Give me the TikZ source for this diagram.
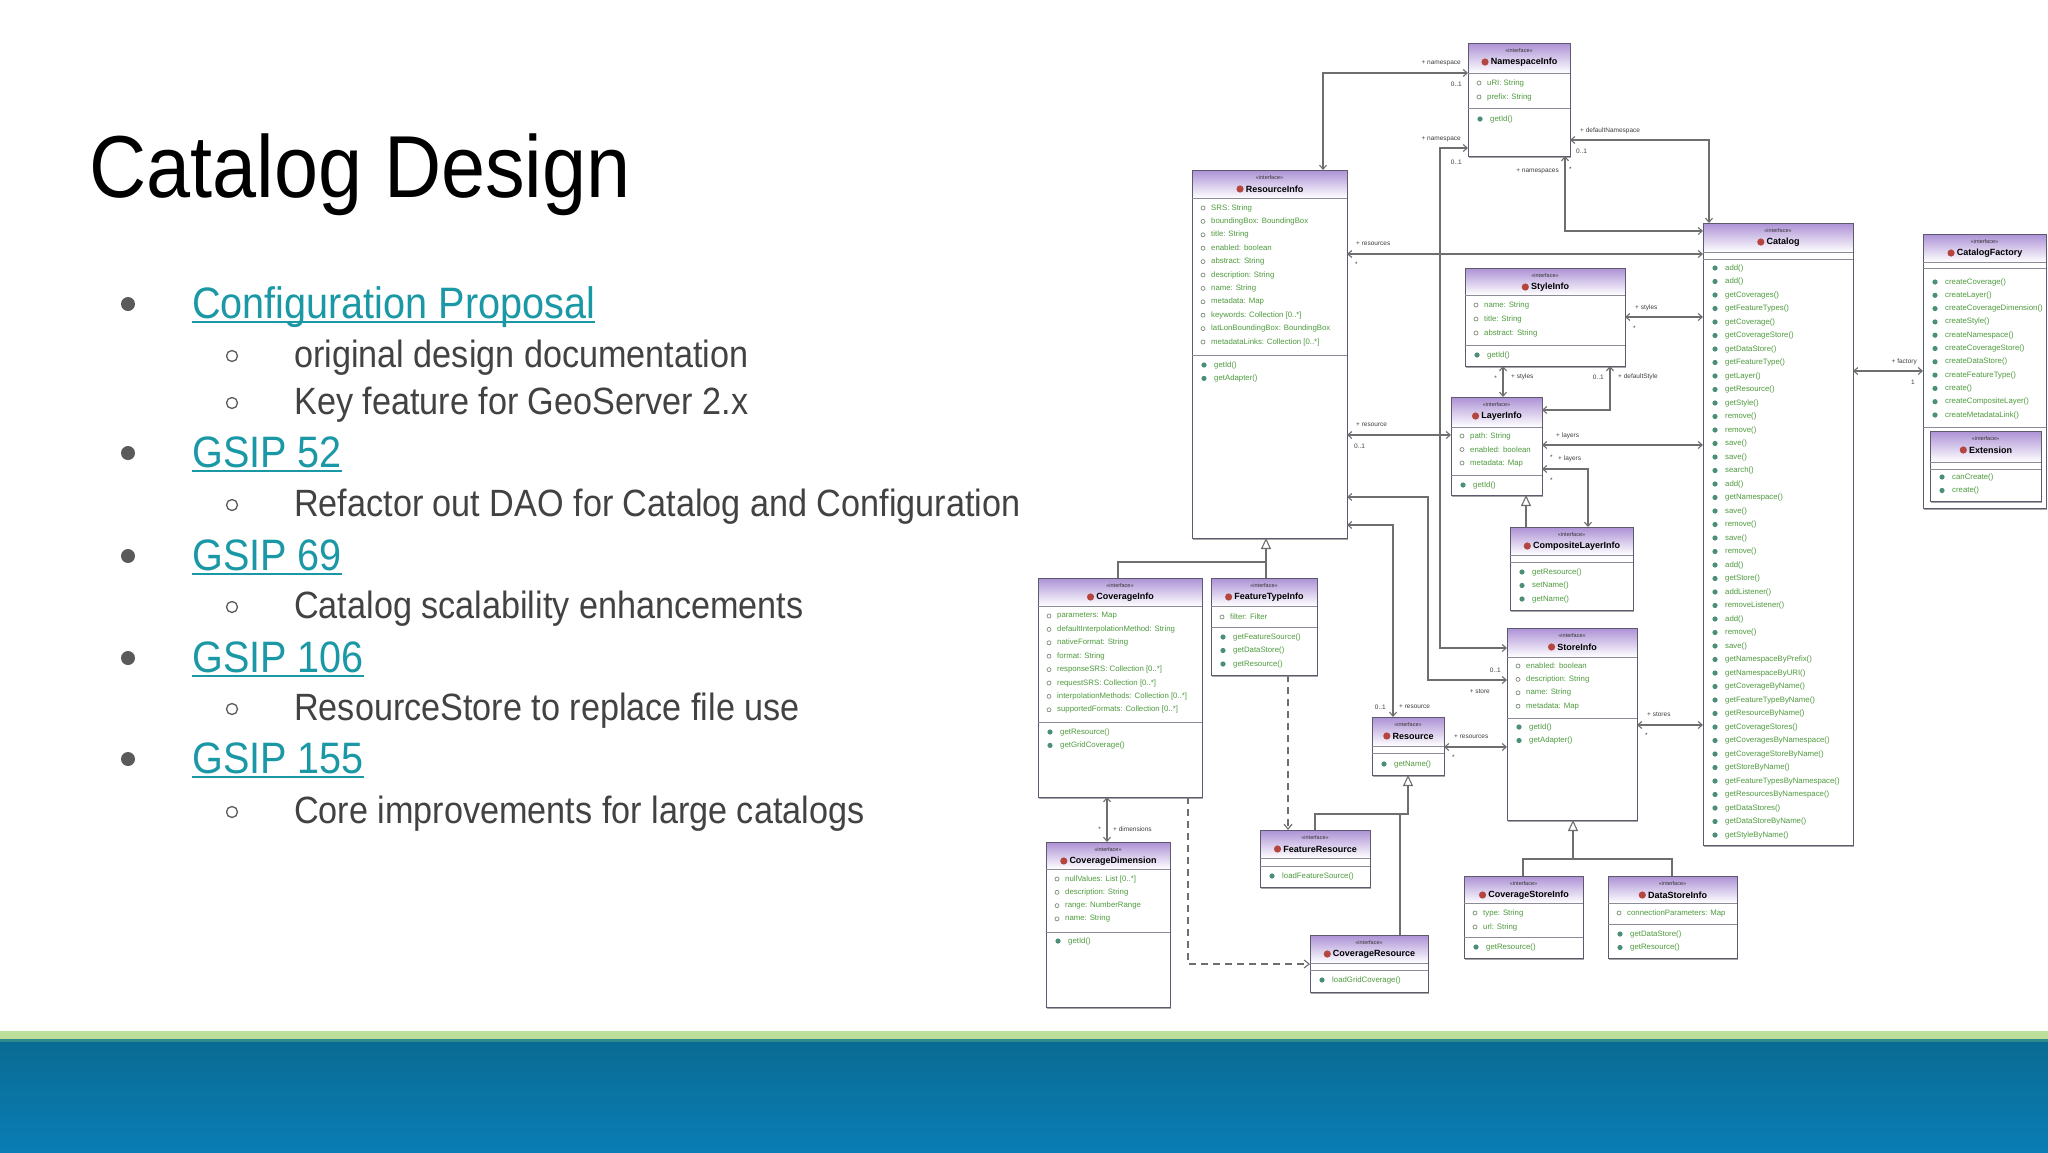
\documentclass[tikz,border=0pt]{standalone}
\usepackage{fontspec}
\setmainfont{Liberation Sans}
\newfontfamily\slidefont{Liberation Sans}[FakeStretch=0.9]
\usetikzlibrary{arrows.meta,shadows}
\definecolor{linkc}{HTML}{1A98A6}
\definecolor{subc}{HTML}{424242}
\definecolor{bulc}{HTML}{5A5A5A}
\definecolor{boxc}{HTML}{5E5A6E}
\definecolor{hdrc}{HTML}{AE93D6}
\definecolor{attc}{HTML}{4E9A3E}
\definecolor{mthc}{HTML}{4A8F76}
\definecolor{atic}{HTML}{7E8F7A}
\definecolor{conc}{HTML}{6E6E6E}
\definecolor{icnc}{HTML}{B5463F}
\definecolor{bandtop}{HTML}{0A6C93}
\definecolor{bandbot}{HTML}{0A7DB5}
\definecolor{greenband}{HTML}{BCE09A}
\definecolor{tealline}{HTML}{2E8C8E}
\tikzset{
  umlframe/.style={draw=boxc, line width=1pt, fill=white, inner sep=0pt, outer sep=0pt,
    drop shadow={shadow xshift=1.3pt, shadow yshift=-1.6pt, fill=black, opacity=0.35}},
  sepline/.style={draw=boxc!70, line width=0.8pt},
  stereo/.style={font=\fontsize{5.5}{6}\selectfont, text=black!80, inner sep=0pt},
  ctitle/.style={font=\fontsize{9}{10}\selectfont\bfseries, text=black, inner sep=0pt},
  attr/.style={font=\fontsize{7.8}{9}\selectfont, text=attc, inner sep=0pt, anchor=west},
  mth/.style={font=\fontsize{7.8}{9}\selectfont, text=attc, inner sep=0pt, anchor=west},
  attic/.style={draw=atic, line width=0.7pt},
  mthic/.style={fill=mthc},
  assoc/.style={draw=conc, line width=1.1pt, {Straight Barb[length=4pt,width=7pt]}-{Straight Barb[length=4pt,width=7pt]}},
  gen/.style={draw=conc, line width=1.1pt, -{Triangle[length=11pt,width=10pt,fill=white]}},
  genline/.style={draw=conc, line width=1.1pt},
  dep/.style={draw=conc, line width=1.1pt, dash pattern=on 7pt off 5pt, -{Straight Barb[length=5pt,width=8pt]}},
  lbl/.style={font=\fontsize{6.5}{7}\selectfont, text=black!75, inner sep=0pt},
  slidetitle/.style={font=\slidefont\fontsize{88}{100}\selectfont, text=black, inner sep=0pt, anchor=base west},
  linktext/.style={font=\slidefont\fontsize{44}{50}\selectfont, text=linkc, inner sep=0pt, anchor=base west},
  subtext/.style={font=\slidefont\fontsize{38}{44}\selectfont, text=subc, inner sep=0pt, anchor=base west},
  uline/.style={draw=linkc, line width=2.6pt},
}
% name, x1, y1, x2, y2, header bottom, attribute bottom, title
\newcommand\umlbox[8]{%
  \pgfmathsetmacro\bxw{#4-#2}\pgfmathsetmacro\bxh{#5-#3}%
  \node[umlframe, anchor=north west, minimum width=\bxw pt, minimum height=\bxh pt] (#1) at (#2,#3) {};
  \shade[top color=hdrc, bottom color=white] (#2+0.5,#3+0.5) rectangle (#4-0.5,#6);
  \draw[draw=boxc, line width=1pt] (#1.north west) rectangle (#1.south east);
  \draw[sepline] (#2,#6) -- (#4,#6);
  \draw[sepline] (#2,#7) -- (#4,#7);
  \node[stereo] (#1-s) at ({(#2+#4)/2},#3+8) {«interface»};
  \node[ctitle] (#1-t) at ({(#2+#4)/2+5},#3+19) {#8};
  \fill[icnc] ([xshift=-5.5pt]#1-t.west) circle (3.6pt);
}
% name, x1, y0, step, list
\newcommand\attrlist[5]{%
  \foreach \itm [count=\idx] in {#5} {
    \node[attr] (#1-a\idx) at (#2+19,{#3+(\idx-1)*#4}) {\itm};
    \draw[attic] (#2+11,{#3+(\idx-1)*#4}) circle (2pt);
  }}
\newcommand\mthlist[5]{%
  \foreach \itm [count=\idx] in {#5} {
    \node[mth] (#1-m\idx) at (#2+22,{#3+(\idx-1)*#4}) {\itm};
    \fill[mthic] (#2+12,{#3+(\idx-1)*#4}) circle (2.6pt);
  }}
\begin{document}
\begin{tikzpicture}[x=1pt,y=-1pt]
\useasboundingbox (0,0) rectangle (2048,1152);
\fill[white] (0,0) rectangle (2048,1152);

% ---------- slide text ----------
\node[slidetitle] (title) at (89,197) {Catalog Design};

\node[linktext] (l1) at (192,318) {Configuration Proposal};
\node[subtext] (s1) at (294,367) {original design documentation};
\node[subtext] (s2) at (294,414) {Key feature for GeoServer 2.x};
\node[linktext] (l2) at (192,467) {GSIP 52};
\node[subtext] (s3) at (294,516) {Refactor out DAO for Catalog and Configuration};
\node[linktext] (l3) at (192,570) {GSIP 69};
\node[subtext] (s4) at (294,618) {Catalog scalability enhancements};
\node[linktext] (l4) at (192,672) {GSIP 106};
\node[subtext] (s5) at (294,720) {ResourceStore to replace file use};
\node[linktext] (l5) at (192,773) {GSIP 155};
\node[subtext] (s6) at (294,823) {Core improvements for large catalogs};

\foreach \ln in {l1,l2,l3,l4,l5} {
  \draw[uline] ([yshift=-4pt]\ln.base west) -- ([yshift=-4pt]\ln.base east);
}
\foreach \yy in {304,453,556,658,759} { \fill[bulc] (128,\yy) circle (7pt); }
\foreach \yy in {356,403,505,607,709,812} { \draw[bulc, line width=1.3pt] (232,\yy) circle (5.5pt); }

% ---------- UML boxes ----------
\umlbox{ns}{1468}{43}{1570}{156}{73}{108}{NamespaceInfo}
\attrlist{ns}{1468}{83}{14}{uRI: String, prefix: String}
\mthlist{ns}{1468}{119}{14}{getId()}

\umlbox{ri}{1192}{170}{1347}{538}{198}{355}{ResourceInfo}
\attrlist{ri}{1192}{208}{13.4}{SRS: String, boundingBox: BoundingBox, title: String, enabled: boolean, abstract: String, description: String, name: String, metadata: Map, keywords: Collection [0..*], latLonBoundingBox: BoundingBox, metadataLinks: Collection [0..*]}
\mthlist{ri}{1192}{365}{13.4}{getId(), getAdapter()}

\umlbox{cat}{1703}{223}{1853}{845}{252}{259}{Catalog}
\mthlist{cat}{1703}{268}{13.5}{add(), add(), getCoverages(), getFeatureTypes(), getCoverage(), getCoverageStore(), getDataStore(), getFeatureType(), getLayer(), getResource(), getStyle(), remove(), remove(), save(), save(), search(), add(), getNamespace(), save(), remove(), save(), remove(), add(), getStore(), addListener(), removeListener(), add(), remove(), save(), getNamespaceByPrefix(), getNamespaceByURI(), getCoverageByName(), getFeatureTypeByName(), getResourceByName(), getCoverageStores(), getCoveragesByNamespace(), getCoverageStoreByName(), getStoreByName(), getFeatureTypesByNamespace(), getResourcesByNamespace(), getDataStores(), getDataStoreByName(), getStyleByName()}

\umlbox{cf}{1923}{234}{2046}{508}{262}{268}{CatalogFactory}
\mthlist{cf}{1923}{282}{13.3}{createCoverage(), createLayer(), createCoverageDimension(), createStyle(), createNamespace(), createCoverageStore(), createDataStore(), createFeatureType(), create(), createCompositeLayer(), createMetadataLink()}
\draw[sepline] (1923,427) -- (2046,427);
\umlbox{ext}{1930}{431}{2041}{501}{462}{469}{Extension}
\mthlist{ext}{1930}{477}{13.5}{canCreate(), create()}

\umlbox{si}{1465}{268}{1625}{366}{295}{345}{StyleInfo}
\attrlist{si}{1465}{305}{14}{name: String, title: String, abstract: String}
\mthlist{si}{1465}{355}{14}{getId()}

\umlbox{li}{1451}{397}{1542}{495}{427}{475}{LayerInfo}
\attrlist{li}{1451}{436}{13.5}{path: String, enabled: boolean, metadata: Map}
\mthlist{li}{1451}{485}{13.5}{getId()}

\umlbox{cli}{1510}{527}{1633}{610}{555}{562}{CompositeLayerInfo}
\mthlist{cli}{1510}{572}{13.5}{getResource(), setName(), getName()}

\umlbox{sti}{1507}{628}{1637}{820}{657}{718}{StoreInfo}
\attrlist{sti}{1507}{666}{13.4}{enabled: boolean, description: String, name: String, metadata: Map}
\mthlist{sti}{1507}{727}{13.5}{getId(), getAdapter()}

\umlbox{res}{1372}{717}{1444}{775}{746}{753}{Resource}
\mthlist{res}{1372}{764}{13.5}{getName()}

\umlbox{csi}{1464}{876}{1583}{958}{903}{937}{CoverageStoreInfo}
\attrlist{csi}{1464}{913}{14}{type: String, url: String}
\mthlist{csi}{1464}{947}{14}{getResource()}

\umlbox{dsi}{1608}{876}{1737}{958}{903}{924}{DataStoreInfo}
\attrlist{dsi}{1608}{913}{14}{connectionParameters: Map}
\mthlist{dsi}{1608}{934}{13.5}{getDataStore(), getResource()}

\umlbox{ci}{1038}{578}{1202}{797}{606}{722}{CoverageInfo}
\attrlist{ci}{1038}{616}{13.4}{parameters: Map, defaultInterpolationMethod: String, nativeFormat: String, format: String, responseSRS: Collection [0..*], requestSRS: Collection [0..*], interpolationMethods: Collection [0..*], supportedFormats: Collection [0..*]}
\mthlist{ci}{1038}{732}{13.4}{getResource(), getGridCoverage()}

\umlbox{fti}{1211}{578}{1317}{675}{606}{627}{FeatureTypeInfo}
\attrlist{fti}{1211}{617}{14}{filter: Filter}
\mthlist{fti}{1211}{637}{13.5}{getFeatureSource(), getDataStore(), getResource()}

\umlbox{fr}{1260}{830}{1370}{887}{858}{866}{FeatureResource}
\mthlist{fr}{1260}{876}{13.5}{loadFeatureSource()}

\umlbox{cr}{1310}{935}{1428}{992}{963}{970}{CoverageResource}
\mthlist{cr}{1310}{980}{13.5}{loadGridCoverage()}

\umlbox{cd}{1046}{842}{1170}{1007}{869}{932}{CoverageDimension}
\attrlist{cd}{1046}{879}{13.3}{nullValues: List [0..*], description: String, range: NumberRange, name: String}
\mthlist{cd}{1046}{941}{13.5}{getId()}

% ---------- connectors ----------
\draw[assoc] (ri.north -| 1323,0) |- (ns.west |- 0,73);
\node[lbl, anchor=east] (c1a) at (1461,63) {+ namespace};
\node[lbl, anchor=east] (c1b) at (1462,84) {0..1};

\draw[assoc] (sti.west |- 0,648) -| (1440,148) -- (ns.west |- 0,148);
\node[lbl, anchor=east] (c2a) at (1461,139) {+ namespace};
\node[lbl, anchor=east] (c2b) at (1462,162) {0..1};

\draw[assoc] (ns.east |- 0,140) -| (cat.north -| 1709,0);
\node[lbl, anchor=west] (c3a) at (1580,131) {+ defaultNamespace};
\node[lbl, anchor=west] (c3b) at (1576,151) {0..1};

\draw[assoc] (ns.south -| 1565,0) |- (cat.west |- 0,231);
\node[lbl, anchor=east] (c4a) at (1559,171) {+ namespaces};
\node[lbl, anchor=west] (c4b) at (1569,169) {*};

\draw[assoc] (cat.west |- 0,254) -- (ri.east |- 0,254);
\node[lbl, anchor=west] (c5a) at (1356,244) {+ resources};
\node[lbl, anchor=west] (c5b) at (1355,264) {*};

\draw[assoc] (cat.west |- 0,317) -- (si.east |- 0,317);
\node[lbl, anchor=west] (c6a) at (1635,308) {+ styles};
\node[lbl, anchor=west] (c6b) at (1633,328) {*};

\draw[assoc] (li.north -| 1503,0) -- (si.south -| 1503,0);
\node[lbl, anchor=east] (c7a) at (1497,378) {*};
\node[lbl, anchor=west] (c7b) at (1511,377) {+ styles};

\draw[assoc] (li.east |- 0,410) -| (si.south -| 1610,0);
\node[lbl, anchor=east] (c8a) at (1604,377) {0..1};
\node[lbl, anchor=west] (c8b) at (1618,377) {+ defaultStyle};

\draw[assoc] (li.west |- 0,435) -- (ri.east |- 0,435);
\node[lbl, anchor=west] (c9a) at (1356,425) {+ resource};
\node[lbl, anchor=west] (c9b) at (1354,446) {0..1};

\draw[assoc] (cat.west |- 0,445) -- (li.east |- 0,445);
\node[lbl, anchor=west] (c10a) at (1556,436) {+ layers};
\node[lbl, anchor=west] (c10b) at (1550,457) {*};

\draw[assoc] (cli.north -| 1588,0) |- (li.east |- 0,469);
\node[lbl, anchor=west] (c11a) at (1558,459) {+ layers};
\node[lbl, anchor=west] (c11b) at (1550,480) {*};

\draw[gen] (cli.north -| 1526,0) -- (li.south -| 1526,0);

\draw[assoc] (cat.west |- 0,725) -- (sti.east |- 0,725);
\node[lbl, anchor=west] (c13a) at (1647,714) {+ stores};
\node[lbl, anchor=west] (c13b) at (1645,735) {*};

\draw[assoc] (ri.east |- 0,497) -| (1428,680) -- (sti.west |- 0,680);
\node[lbl, anchor=east] (c14a) at (1501,670) {0..1};
\node[lbl, anchor=east] (c14b) at (1490,691) {+ store};

\draw[assoc] (ri.east |- 0,525) -| (res.north -| 1393,0);
\node[lbl, anchor=east] (c15a) at (1386,707) {0..1};
\node[lbl, anchor=west] (c15b) at (1399,707) {+ resource};

\draw[assoc] (sti.west |- 0,747) -- (res.east |- 0,747);
\node[lbl, anchor=west] (c16a) at (1454,737) {+ resources};
\node[lbl, anchor=west] (c16b) at (1452,757) {*};

\draw[gen] (csi.north -| 1523,0) |- (1573,859) -- (sti.south -| 1573,0);
\draw[genline] (dsi.north -| 1672,0) |- (1573,859);

\draw[gen] (ci.north -| 1118,0) |- (1266,562) -- (ri.south -| 1266,0);
\draw[genline] (fti.north -| 1266,0) -- (1266,562);

\draw[dep] (fti.south -| 1288,0) -- (fr.north -| 1288,0);
\draw[dep] (ci.south -| 1188,0) |- (cr.west |- 0,964);

\draw[gen] (fr.north -| 1315,0) |- (1408,814) -- (res.south -| 1408,0);
\draw[genline] (cr.north -| 1400,0) -- (1400,814);

\draw[assoc] (ci.south -| 1107,0) -- (cd.north -| 1107,0);
\node[lbl, anchor=east] (c22a) at (1101,829) {*};
\node[lbl, anchor=west] (c22b) at (1113,829) {+ dimensions};

\draw[assoc] (cat.east |- 0,371) -- (cf.west |- 0,371);
\node[lbl, anchor=east] (c23a) at (1917,362) {+ factory};
\node[lbl, anchor=east] (c23b) at (1915,382) {1};

% ---------- bottom band ----------
\fill[greenband] (0,1031) rectangle (2048,1039);
\fill[tealline] (0,1039) rectangle (2048,1042);
\shade[top color=bandtop, bottom color=bandbot] (0,1042) rectangle (2048,1152);
\end{tikzpicture}
\end{document}
